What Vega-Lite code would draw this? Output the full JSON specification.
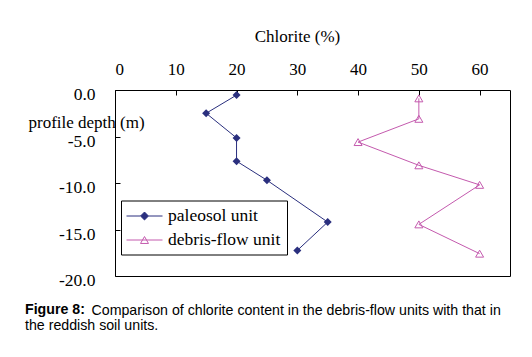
{
  "$schema": "https://vega.github.io/schema/vega-lite/v6.json",
  "width": 395,
  "height": 186,
  "autosize": {"type": "none"},
  "padding": {"left": 115, "top": 90, "right": 22, "bottom": 81},
  "background": "white",
  "title": {
    "text": "Figure 8:",
    "subtitle": "the reddish soil units.",
    "orient": "bottom",
    "anchor": "start",
    "frame": "group",
    "dx": -90,
    "offset": -14.5,
    "font": "Liberation Sans",
    "fontSize": 14.2,
    "fontWeight": "bold",
    "color": "black",
    "subtitleFont": "Liberation Sans",
    "subtitleFontSize": 14.2,
    "subtitleColor": "black",
    "subtitlePadding": 1.1
  },
  "data": {
    "values": [
      {"unit": "paleosol unit", "chlorite": 20, "depth": -0.55},
      {"unit": "paleosol unit", "chlorite": 15, "depth": -2.5},
      {"unit": "paleosol unit", "chlorite": 20, "depth": -5.15},
      {"unit": "paleosol unit", "chlorite": 20, "depth": -7.65},
      {"unit": "paleosol unit", "chlorite": 25, "depth": -9.7},
      {"unit": "paleosol unit", "chlorite": 35, "depth": -14.2},
      {"unit": "paleosol unit", "chlorite": 30, "depth": -17.25},
      {"unit": "debris-flow unit", "chlorite": 50, "depth": -0.9},
      {"unit": "debris-flow unit", "chlorite": 50, "depth": -3.1},
      {"unit": "debris-flow unit", "chlorite": 40, "depth": -5.6},
      {"unit": "debris-flow unit", "chlorite": 50, "depth": -8.1},
      {"unit": "debris-flow unit", "chlorite": 60, "depth": -10.2},
      {"unit": "debris-flow unit", "chlorite": 50, "depth": -14.45},
      {"unit": "debris-flow unit", "chlorite": 60, "depth": -17.6}
    ]
  },
  "encoding": {
    "x": {
      "field": "chlorite",
      "type": "quantitative",
      "scale": {"domain": [0, 65], "nice": false, "zero": false},
      "axis": {
        "orient": "top",
        "title": "Chlorite (%)",
        "values": [0, 10, 20, 30, 40, 50, 60],
        "grid": false,
        "domain": false,
        "tickSize": -5,
        "tickColor": "black",
        "labelPadding": 21,
        "labelBaseline": "alphabetic",
        "labelFont": "Liberation Serif",
        "labelFontSize": 17,
        "labelColor": "black",
        "titleFont": "Liberation Serif",
        "titleFontSize": 17,
        "titleFontWeight": "normal",
        "titleColor": "black",
        "titleX": 182,
        "titleY": -49,
        "titleBaseline": "alphabetic",
        "titleAnchor": "start",
        "titleAlign": "center"
      }
    },
    "y": {
      "field": "depth",
      "type": "quantitative",
      "scale": {"domain": [-20, 0], "nice": false, "zero": false},
      "axis": {
        "title": "profile depth (m)",
        "values": [0, -5, -10, -15, -20],
        "labelExpr": "replace(format(datum.value, '.1f'), '\u2212', '-')",
        "grid": false,
        "domain": false,
        "tickSize": -5,
        "tickColor": "black",
        "labelPadding": 25,
        "labelOffset": 4.5,
        "labelFont": "Liberation Serif",
        "labelFontSize": 17.5,
        "labelColor": "black",
        "titleFont": "Liberation Serif",
        "titleFontSize": 17,
        "titleFontWeight": "normal",
        "titleColor": "black",
        "titleAngle": 0,
        "titleAlign": "left",
        "titleBaseline": "alphabetic",
        "titleX": -87,
        "titleY": 37
      }
    }
  },
  "layer": [
    {
      "layer": [
        {
          "mark": {"type": "line", "strokeWidth": 1},
          "encoding": {
            "stroke": {
              "field": "unit",
              "type": "nominal",
              "scale": {"domain": ["paleosol unit", "debris-flow unit"], "range": ["#2A2F7E", "#C45AAE"]}
            },
            "order": {"field": "depth", "sort": "descending"}
          }
        },
        {
          "transform": [{"filter": "datum.unit === 'paleosol unit'"}],
          "mark": {"type": "point", "shape": "diamond", "size": 64, "filled": true, "color": "#2A2F7E", "opacity": 1}
        },
        {
          "transform": [{"filter": "datum.unit === 'debris-flow unit'"}],
          "mark": {"type": "point", "shape": "triangle-up", "size": 64, "filled": false, "stroke": "#C45AAE", "strokeWidth": 1, "opacity": 1}
        },
        {
          "transform": [{"filter": "datum.depth > 100"}],
          "mark": {"type": "point", "size": 324, "strokeWidth": 1, "opacity": 1},
          "encoding": {
            "shape": {
              "field": "unit",
              "type": "nominal",
              "scale": {"domain": ["paleosol unit", "debris-flow unit"], "range": ["M-2,0L-0.44,0M-0.44,0L0,-0.44L0.44,0L0,0.44ZM0.44,0L2,0", "M-2,0L2,0M0,-0.385L0.444,0.385L-0.444,0.385Z"]},
              "legend": {
                "title": null,
                "orient": "none",
                "legendX": 6,
                "legendY": 110.5,
                "padding": 6,
                "fillColor": "white",
                "strokeColor": "black",
                "symbolSize": 324,
                "symbolOffset": 8,
                "symbolStrokeWidth": 1,
                "symbolOpacity": 1,
                "labelOffset": 14,
                "rowPadding": 6,
                "labelFont": "Liberation Serif",
                "labelFontSize": 17.5,
                "labelColor": "black",
                "labelLimit": 300
              }
            },
            "stroke": {"field": "unit", "type": "nominal"},
            "fill": {
              "field": "unit",
              "type": "nominal",
              "scale": {"domain": ["paleosol unit", "debris-flow unit"], "range": ["#2A2F7E", "white"]}
            }
          }
        }
      ]
    },
    {
      "transform": [{"filter": "datum.depth > 100"}],
      "mark": {"type": "point", "opacity": 0},
      "encoding": {
        "x": {
          "field": "chlorite",
          "type": "quantitative",
          "scale": {"domain": [0, 65], "nice": false, "zero": false},
          "axis": {
            "orient": "bottom",
            "title": "Comparison of chlorite content in the debris-flow units with that in",
            "labels": false,
            "ticks": false,
            "domain": false,
            "grid": false,
            "titleFont": "Liberation Sans",
            "titleFontSize": 14.2,
            "titleFontWeight": "normal",
            "titleColor": "black",
            "titleAnchor": "start",
            "titleAlign": "left",
            "titleBaseline": "alphabetic",
            "titleX": -24,
            "titleY": 38.5
          }
        }
      }
    }
  ],
  "resolve": {"scale": {"x": "independent"}, "axis": {"x": "independent"}},
  "config": {
    "view": {"stroke": "black", "strokeWidth": 1},
    "axis": {"ticks": true, "tickWidth": 1}
  }
}
